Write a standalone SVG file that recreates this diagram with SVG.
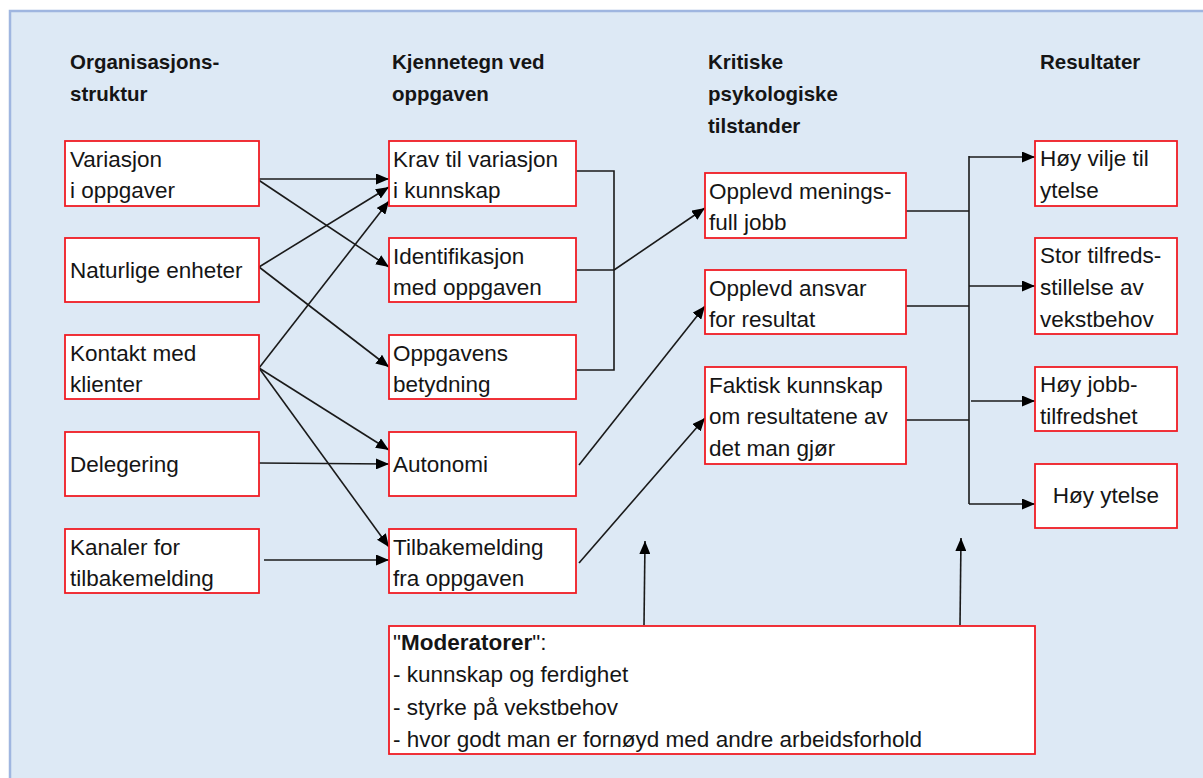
<svg xmlns="http://www.w3.org/2000/svg" width="1203" height="778" viewBox="0 0 1203 778">
<defs>
<style>
.bg{fill:#dde9f5;stroke:#9fb6e0;stroke-width:2.5}
.box{fill:#fff;stroke:#f01c24;stroke-width:1.8}
.t{font-family:"Liberation Sans",Arial,sans-serif;font-size:22.5px;fill:#151515}
.h{font-family:"Liberation Sans",Arial,sans-serif;font-size:20.5px;font-weight:bold;fill:#151515}
.c{fill:none;stroke:#1a1a1a;stroke-width:1.6}
.a{marker-end:url(#ah)}
</style>
<marker id="ah" viewBox="0 0 13 11" refX="13" refY="5.5" markerWidth="13" markerHeight="11" orient="auto" markerUnits="userSpaceOnUse"><path d="M0,0 L13,5.5 L0,11 z" fill="#000"/></marker>
</defs>
<rect class="bg" x="10" y="11" width="1205" height="780"/>

<g id="headers">
<text class="h" x="70" y="69">Organisasjons-</text>
<text class="h" x="70" y="101">struktur</text>
<text class="h" x="392" y="69">Kjennetegn ved</text>
<text class="h" x="392" y="101">oppgaven</text>
<text class="h" x="708" y="69">Kritiske</text>
<text class="h" x="708" y="101">psykologiske</text>
<text class="h" x="708" y="133">tilstander</text>
<text class="h" x="1040" y="69">Resultater</text>
</g>

<g id="connectors">
<path class="c a" d="M257,179 L389,179"/>
<path class="c a" d="M257,179 L389,267"/>
<path class="c a" d="M259,267 L389,187"/>
<path class="c a" d="M259,267 L389,367"/>
<path class="c a" d="M259,368 L389,201"/>
<path class="c a" d="M259,368 L389,450"/>
<path class="c a" d="M259,368 L389,547"/>
<path class="c a" d="M259,463 L389,464"/>
<path class="c a" d="M264,560 L389,560"/>
<path class="c" d="M576,171 H614 V370 H576 M576,270 H614"/>
<path class="c a" d="M614,270 L705,208"/>
<path class="c a" d="M579,465 L705,306"/>
<path class="c a" d="M579,563 L705,418"/>
<path class="c" d="M906,211 H969 M906,306 H969 M906,420 H969 M969,156 V504"/>
<path class="c a" d="M969,157 H1035"/>
<path class="c a" d="M969,286 H1035"/>
<path class="c a" d="M971,401 H1035"/>
<path class="c a" d="M969,504 H1035"/>
<path class="c a" d="M644,625 L645,541"/>
<path class="c a" d="M960,625 L961,538"/>
</g>

<g id="n-variasjon"><rect class="box" x="65" y="141" width="194" height="65"/><text class="t" x="70" y="167">Variasjon</text><text class="t" x="70" y="198">i oppgaver</text></g>
<g id="n-naturlige"><rect class="box" x="65" y="238" width="194" height="64"/><text class="t" x="70" y="278">Naturlige enheter</text></g>
<g id="n-kontakt"><rect class="box" x="65" y="335" width="194" height="64"/><text class="t" x="70" y="361">Kontakt med</text><text class="t" x="70" y="392">klienter</text></g>
<g id="n-delegering"><rect class="box" x="65" y="432" width="194" height="64"/><text class="t" x="70" y="472">Delegering</text></g>
<g id="n-kanaler"><rect class="box" x="65" y="529" width="194" height="64"/><text class="t" x="70" y="555">Kanaler for</text><text class="t" x="70" y="586">tilbakemelding</text></g>

<g id="n-krav"><rect class="box" x="389" y="141" width="187" height="65"/><text class="t" x="393" y="167">Krav til variasjon</text><text class="t" x="393" y="198">i kunnskap</text></g>
<g id="n-identifikasjon"><rect class="box" x="389" y="238" width="187" height="64"/><text class="t" x="393" y="264">Identifikasjon</text><text class="t" x="393" y="295">med oppgaven</text></g>
<g id="n-oppgavens"><rect class="box" x="389" y="335" width="187" height="64"/><text class="t" x="393" y="361">Oppgavens</text><text class="t" x="393" y="392">betydning</text></g>
<g id="n-autonomi"><rect class="box" x="389" y="432" width="187" height="64"/><text class="t" x="393" y="472">Autonomi</text></g>
<g id="n-tilbakemelding"><rect class="box" x="389" y="529" width="187" height="64"/><text class="t" x="393" y="555">Tilbakemelding</text><text class="t" x="393" y="586">fra oppgaven</text></g>

<g id="n-meningsfull"><rect class="box" x="705" y="173" width="201" height="65"/><text class="t" x="709" y="199">Opplevd menings-</text><text class="t" x="709" y="230">full jobb</text></g>
<g id="n-ansvar"><rect class="box" x="705" y="270" width="201" height="64"/><text class="t" x="709" y="296">Opplevd ansvar</text><text class="t" x="709" y="327">for resultat</text></g>
<g id="n-faktisk"><rect class="box" x="705" y="367" width="201" height="97"/><text class="t" x="709" y="393">Faktisk kunnskap</text><text class="t" x="709" y="424">om resultatene av</text><text class="t" x="709" y="456">det man gjør</text></g>

<g id="n-vilje"><rect class="box" x="1035" y="141" width="142" height="65"/><text class="t" x="1040" y="166">Høy vilje til</text><text class="t" x="1040" y="198">ytelse</text></g>
<g id="n-tilfreds"><rect class="box" x="1035" y="238" width="142" height="96"/><text class="t" x="1040" y="263">Stor tilfreds-</text><text class="t" x="1040" y="295">stillelse av</text><text class="t" x="1040" y="327">vekstbehov</text></g>
<g id="n-jobb"><rect class="box" x="1035" y="367" width="142" height="64"/><text class="t" x="1040" y="392">Høy jobb-</text><text class="t" x="1040" y="424">tilfredshet</text></g>
<g id="n-ytelse"><rect class="box" x="1035" y="464" width="142" height="64"/><text class="t" x="1106" y="503" text-anchor="middle">Høy ytelse</text></g>

<g id="n-moderatorer"><rect class="box" x="389" y="626" width="646" height="128"/>
<text class="t" x="393" y="650">"<tspan font-weight="bold">Moderatorer</tspan>":</text>
<text class="t" x="393" y="682">- kunnskap og ferdighet</text>
<text class="t" x="393" y="715">- styrke på vekstbehov</text>
<text class="t" x="393" y="747">- hvor godt man er fornøyd med andre arbeidsforhold</text>
</g>
</svg>
